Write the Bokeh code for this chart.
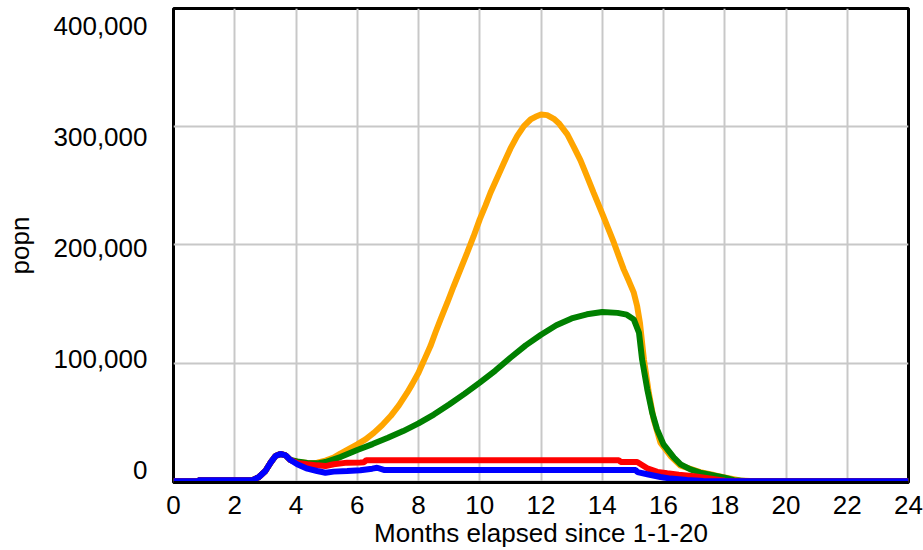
from bokeh.plotting import figure
from bokeh.models import (Range1d, LinearAxis, FixedTicker, NumeralTickFormatter)
from bokeh.embed import file_html
from bokeh.resources import INLINE

# ---------------- data ----------------
x_ticks = [0, 2, 4, 6, 8, 10, 12, 14, 16, 18, 20, 22, 24]
y_ticks = [0, 100000, 200000, 300000, 400000]

early_t = [0, 0.8, 0.82, 2.57, 2.78, 3.0, 3.17, 3.33, 3.49, 3.66, 3.82]
early_v = [0, 0, 1000, 1000, 3400, 8700, 15800, 21400, 23200, 22000, 18000]

orange_t = early_t + [4.04, 4.37, 4.69, 4.96, 5.23, 5.45, 5.73, 6.0, 6.27, 6.54, 6.81, 7.09,
                      7.36, 7.63, 7.79, 8.0, 8.17, 8.39, 8.55, 8.72, 8.94, 9.15, 9.37, 9.59,
                      9.8, 10.0, 10.19, 10.35, 10.57, 10.79, 11.0, 11.22, 11.44, 11.66, 11.82,
                      12.0, 12.2, 12.42, 12.58, 12.86, 13.07, 13.29, 13.5, 13.72, 14.03, 14.21,
                      14.38, 14.54, 14.7, 14.87, 15.03, 15.14, 15.23, 15.36, 15.52, 15.68,
                      15.9, 16.23, 16.56, 16.88, 17.2, 17.64, 18.0, 18.5, 19.0, 24]
orange_v = early_v + [16500, 15500, 15800, 17500, 20000, 23500, 27500, 31300, 35500, 41000,
                      47400, 55200, 64300, 75000, 82000, 91900, 101700, 114400, 125700, 137000,
                      151100, 165200, 179300, 193400, 207400, 221600, 233400, 244100, 256800,
                      269500, 281400, 292000, 300500, 306100, 308400, 310300, 309800, 306700,
                      303000, 293500, 283000, 271500, 258200, 244100, 224500, 213000, 201900,
                      190500, 179300, 169400, 159600, 148200, 134200, 103200, 75000, 52400,
                      32700, 21400, 13200, 10500, 7800, 5300, 3200, 800, 0, 0]

green_t = early_t + [4.04, 4.37, 4.69, 4.96, 5.45, 6.0, 6.5, 7.0, 7.5, 8.0, 8.5, 9.0, 9.5,
                     10.0, 10.5, 11.0, 11.5, 12.0, 12.5, 13.0, 13.5, 14.0, 14.5, 14.8, 15.03,
                     15.2, 15.3, 15.47, 15.63, 15.79, 16.0, 16.34, 16.56, 16.88, 17.2, 17.64,
                     18.0, 18.3, 18.8, 24]
green_v = early_v + [16800, 15600, 15200, 16300, 20500, 26500, 31500, 36800, 42500, 49000,
                     56500, 65000, 74000, 83500, 93500, 104500, 115000, 124000, 132000, 137800,
                     141300, 143200, 142500, 141000, 137000, 125700, 103200, 77800, 58100,
                     44000, 31300, 20000, 14400, 10150, 7300, 5000, 3000, 1000, 0, 0]

red_t = early_t + [4.04, 4.37, 4.69, 4.96, 5.23, 5.67, 6.1, 6.22, 6.3, 14.54, 14.6, 15.14, 15.47,
                   15.8, 16.12, 16.5, 17.0, 17.5, 18.0, 18.5, 24]
red_v = early_v + [15500, 14400, 13500, 12900, 14400, 15800, 16000, 16200, 17900, 17900, 16400,
                   16300, 11000, 8000, 6800, 5600, 4300, 2500, 500, 0, 0]

blue_t = early_t + [4.04, 4.37, 4.69, 4.96, 5.23, 5.67, 6.1, 6.49, 6.65, 6.87, 15.09, 15.15,
                    15.47, 15.9, 16.23, 16.77, 17.3, 17.8, 24]
blue_v = early_v + [14400, 10700, 8700, 7300, 8200, 8700, 9300, 10700, 11500, 9600, 9600, 7800,
                    6000, 3700, 2300, 1100, 300, 0, 0]

# ---------------- layout ----------------
FONT = "Liberation Sans"
FS = "26px"
frame_h = 474
y_min, y_max = -1000, 400000
# Vensim-style y labels are spread slightly tighter than the grid
lab_bottom_px = 12.3
lab_top_px = 17.5
lab_span = frame_h * y_max / (frame_h - lab_bottom_px - lab_top_px)
lab_start = -lab_bottom_px * lab_span / frame_h
lab_end = lab_start + lab_span

p = figure(width=923, height=550, output_backend="svg", toolbar_location=None,
           x_range=Range1d(0, 24), y_range=Range1d(y_min, y_max),
           y_axis_location=None,
           min_border_left=173, min_border_right=15, min_border_top=8, min_border_bottom=68)
p.background_fill_color = "white"
p.border_fill_color = "white"
p.outline_line_color = "black"
p.outline_line_width = 3

# x axis
xa = p.xaxis[0]
xa.ticker = FixedTicker(ticks=x_ticks)
xa.axis_label = "Months elapsed since 1-1-20"
xa.axis_line_color = "black"
xa.axis_line_width = 3
xa.major_tick_line_color = None
xa.minor_tick_line_color = None
xa.major_tick_out = 0
xa.major_tick_in = 0
xa.major_label_standoff = 13
xa.axis_label_standoff = 1
xa.major_label_text_font = FONT
xa.major_label_text_font_size = FS
xa.major_label_text_color = "black"
xa.axis_label_text_font = FONT
xa.axis_label_text_font_size = FS
xa.axis_label_text_font_style = "normal"
xa.axis_label_text_color = "black"

p.xgrid.ticker = FixedTicker(ticks=x_ticks)
p.xgrid.grid_line_color = "#c8c8c8"
p.xgrid.grid_line_width = 2
p.ygrid.ticker = FixedTicker(ticks=y_ticks)
p.ygrid.grid_line_color = "#c8c8c8"
p.ygrid.grid_line_width = 2

# y axis (labels on a slightly compressed companion range)
p.extra_y_ranges = {"lab": Range1d(lab_start, lab_end)}
ya = LinearAxis(y_range_name="lab", ticker=FixedTicker(ticks=y_ticks),
                formatter=NumeralTickFormatter(format="0,0"), axis_label="popn")
ya.axis_line_color = None
ya.major_tick_line_color = None
ya.minor_tick_line_color = None
ya.major_tick_out = 0
ya.major_tick_in = 0
ya.major_label_standoff = 26
ya.axis_label_standoff = 16
ya.major_label_text_font = FONT
ya.major_label_text_font_size = FS
ya.major_label_text_color = "black"
ya.axis_label_text_font = FONT
ya.axis_label_text_font_size = FS
ya.axis_label_text_font_style = "normal"
ya.axis_label_text_color = "black"
p.add_layout(ya, "left")

LW = 6
p.line(orange_t, orange_v, line_color="#FFA500", line_width=LW)
p.line(green_t, green_v, line_color="#008000", line_width=LW)
p.line(red_t, red_v, line_color="#FF0000", line_width=LW)
p.line(blue_t, blue_v, line_color="#0000FF", line_width=LW)

open("out.html", "w").write(file_html(p, INLINE))
